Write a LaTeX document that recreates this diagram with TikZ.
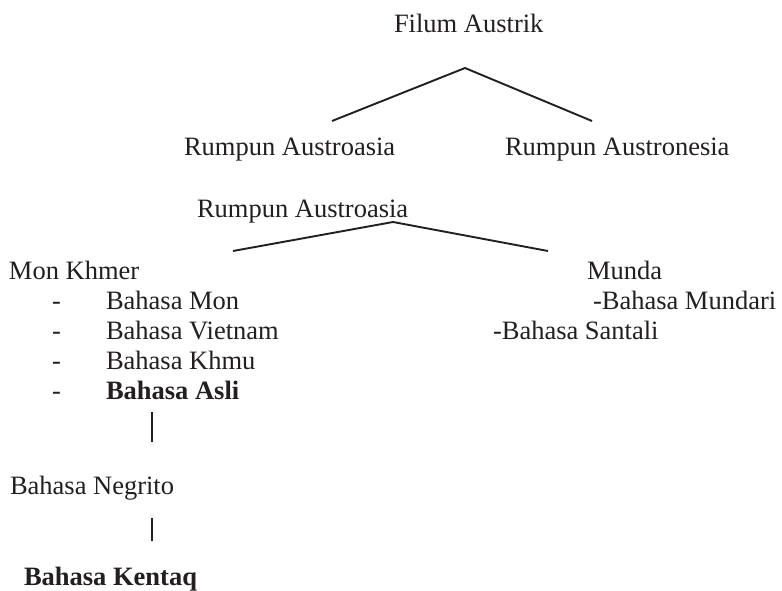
\documentclass[tikz,border=0pt]{standalone}
\usepackage{fontspec}
\setmainfont{Liberation Serif}
\begin{document}
\begin{tikzpicture}[x=1pt,y=-1pt,
  lbl/.style={anchor=base west,inner sep=0pt,outer sep=0pt,text=ink,font=\fontsize{26.5}{30}\selectfont},
  blbl/.style={lbl,font=\fontsize{26.5}{30}\selectfont\bfseries},
  conn/.style={draw=ink,line width=1.9pt},
  bar/.style={draw=ink,line width=1.8pt}]
\definecolor{ink}{HTML}{231F20}
\useasboundingbox[fill=white] (0,0) rectangle (782,591);
% top level
\node[lbl] (filum) at (394,33) {Filum Austrik};
\node[lbl] (ra1) at (184,156) {Rumpun Austroasia};
\node[lbl] (rn) at (505,156) {Rumpun Austronesia};
\coordinate (c1apex) at (465,68);
\coordinate (c1l) at (332,121);
\coordinate (c1r) at (592,121);
\draw[conn] (c1l) -- (c1apex) -- (c1r);
% second level
\node[lbl] (ra2) at (197,217) {Rumpun Austroasia};
\coordinate (c2apex) at (393,222);
\coordinate (c2l) at (233,251);
\coordinate (c2r) at (548,251);
\draw[conn] (c2l) -- (c2apex) -- (c2r);
\node[lbl] (mk) at (9,279) {Mon Khmer};
\node[lbl] (munda) at (587,279) {Munda};
\node[lbl] (mon) at (106,309) {Bahasa Mon};
\node[lbl] (viet) at (106,339) {Bahasa Vietnam};
\node[lbl] (khmu) at (106,369) {Bahasa Khmu};
\node[blbl] (asli) at (106,399) {Bahasa Asli};
\node[lbl] (d1) at (52,309) {-};
\node[lbl] (d2) at (52,339) {-};
\node[lbl] (d3) at (52,369) {-};
\node[lbl] (d4) at (52,399) {-};
\node[lbl] (mundari) at (593,309) {-Bahasa Mundari};
\node[lbl] (santali) at (493,339) {-Bahasa Santali};
\node[lbl] (negrito) at (10,494) {Bahasa Negrito};
\node[blbl] (kentaq) at (24,585) {Bahasa Kentaq};
\coordinate (b1t) at (152,412);
\coordinate (b1b) at (152,442);
\coordinate (b2t) at (152,518);
\coordinate (b2b) at (152,541);
\draw[bar] (b1t) -- (b1b);
\draw[bar] (b2t) -- (b2b);
\end{tikzpicture}
\end{document}
